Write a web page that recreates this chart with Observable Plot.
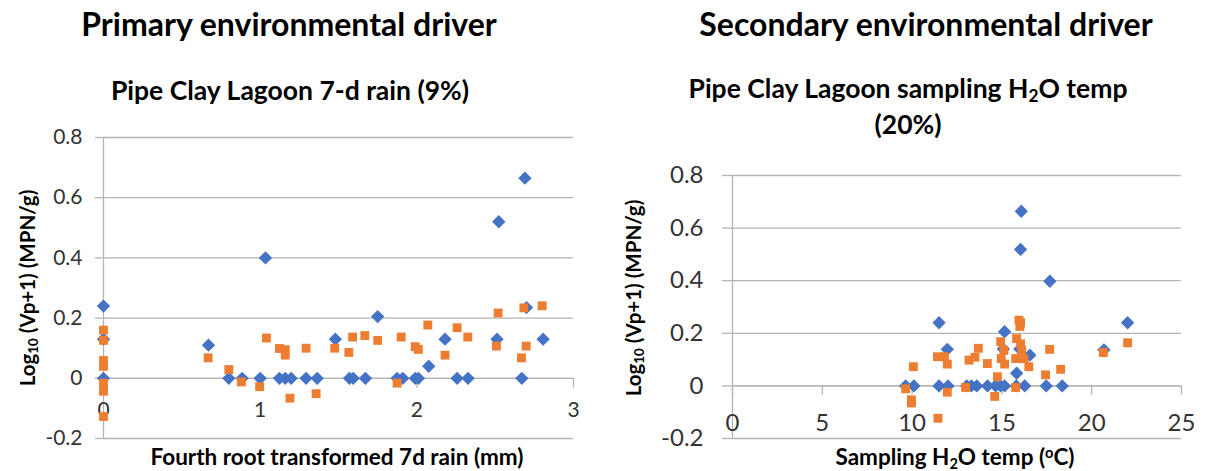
<!DOCTYPE html>
<html>
<head>
<meta charset="utf-8">
<script src="https://cdn.jsdelivr.net/npm/d3@7"></script>
<script src="https://cdn.jsdelivr.net/npm/@observablehq/plot@0.6"></script>
<style>
  html, body { margin: 0; padding: 0; background: #fff; }
  #root { position: relative; width: 1205px; height: 471px; font-family: Lato, "Open Sans", sans-serif; color: #000; overflow: hidden; }
  .t { position: absolute; white-space: pre; transform: translateX(-50%); line-height: 1; font-weight: bold; }
  .rot { position: absolute; white-space: pre; line-height: 1; font-weight: bold; transform: translate(-50%, -50%) rotate(-90deg); }
  .chart { position: absolute; top: 0; }
  sub { font-size: 0.65em; vertical-align: -0.25em; line-height: 0; }
  sup { font-size: 0.65em; vertical-align: 0.45em; line-height: 0; }
</style>
</head>
<body>
<div id="root"></div>
<script>
// ---- Data ----
// Left panel: Fourth root transformed 7d rain (mm) vs Log10(Vp+1)
const rainBlueX = [0, 0, 0, 0.67, 0.80, 0.885, 1.0, 1.034, 1.123, 1.16, 1.198, 1.293, 1.364, 1.48, 1.57, 1.594, 1.672, 1.75, 1.874, 1.91, 1.99, 2.01, 2.076, 2.18, 2.257, 2.327, 2.512, 2.523, 2.67, 2.69, 2.70, 2.806];
const rainBlueY = [0.24, 0.13, 0, 0.11, 0, 0, 0, 0.40, 0, 0, 0, 0, 0, 0.13, 0, 0, 0, 0.205, 0, 0, 0, 0, 0.04, 0.13, 0, 0, 0.13, 0.52, 0, 0.665, 0.235, 0.13];
const rainOrangeX = [0, 0, 0, 0, 0, 0, 0, 0.668, 0.80, 0.88, 0.997, 1.04, 1.123, 1.16, 1.16, 1.19, 1.293, 1.357, 1.476, 1.566, 1.59, 1.668, 1.75, 1.874, 1.90, 1.99, 2.01, 2.07, 2.18, 2.257, 2.325, 2.508, 2.519, 2.668, 2.683, 2.698, 2.80];
const rainOrangeY = [0.16, 0.126, 0.059, 0.04, -0.016, -0.043, -0.127, 0.068, 0.029, -0.012, -0.028, 0.134, 0.099, 0.095, 0.077, -0.066, 0.10, -0.051, 0.10, 0.086, 0.137, 0.142, 0.126, -0.016, 0.137, 0.105, 0.096, 0.177, 0.077, 0.168, 0.137, 0.107, 0.217, 0.068, 0.234, 0.107, 0.241];

// Right panel: Sampling H2O temp (oC) vs Log10(Vp+1)
const tempBlueX = [9.64, 10.1, 11.5, 11.5, 11.96, 12.0, 13.04, 13.3, 13.6, 14.2, 14.65, 14.93, 15.15, 15.08, 15.15, 15.82, 15.8, 16.04, 16.08, 16.0, 16.27, 16.56, 17.47, 17.67, 18.36, 20.68, 22.0];
const tempBlueY = [0, 0, 0.24, 0, 0.139, 0, 0, 0, 0, 0, 0, 0, 0.206, 0.14, 0, 0.048, 0, 0.519, 0.664, 0.14, 0, 0.117, 0, 0.398, 0, 0.137, 0.24];
const tempOrangeX = [9.64, 9.96, 9.96, 10.07, 11.44, 11.41, 11.8, 11.96, 11.96, 12.98, 13.17, 13.5, 13.69, 14.19, 14.6, 14.75, 14.93, 14.96, 15.11, 15.15, 15.77, 15.77, 15.82, 15.95, 16.0, 16.04, 16.04, 16.1, 16.23, 16.5, 17.43, 17.66, 18.27, 20.65, 22.0];
const tempOrangeY = [-0.011, -0.053, -0.065, 0.073, -0.123, 0.111, 0.111, 0.083, -0.024, -0.006, 0.098, 0.109, 0.143, 0.085, -0.04, 0.035, 0.168, 0.104, 0.135, 0.083, 0.104, -0.006, 0.18, 0.25, 0.226, 0.24, 0.16, 0.135, 0.103, 0.073, 0.042, 0.139, 0.063, 0.127, 0.164];

// Axis ticks
const yTicks = [-0.2, 0, 0.2, 0.4, 0.6, 0.8];
const rainXTicks = [0, 1, 2, 3];
const tempXTicks = [0, 5, 10, 15, 20, 25];

// ---- Build ----
const pts = (xs, ys) => xs.map((x, i) => ({x, y: ys[i]}));
const BLUE = "#4472C4", ORANGE = "#ED7D31", GRID = "#b4b4b4", TICKTXT = "#333333";
const fmt = d => String(d);

function panel({w, left, mL, mR, mT, mB, xDomain, xTicks, blue, orange, yTickSize, yPad, yFont, xTickSize, xPad, xFont}) {
  const innerH = 471 - mT - mB;
  const dyAxis = -(0 - yTicks[0]) / (yTicks[yTicks.length - 1] - yTicks[0]) * innerH;
  const svg = Plot.plot({
    width: w, height: 471,
    marginLeft: mL, marginRight: mR, marginTop: mT, marginBottom: mB,
    x: {domain: xDomain},
    y: {domain: [yTicks[0], yTicks[yTicks.length - 1]]},
    style: {fontFamily: "Lato, 'Open Sans', sans-serif", background: "transparent", overflow: "visible"},
    marks: [
      Plot.gridY(yTicks, {stroke: GRID, strokeOpacity: 1, strokeWidth: 1.3}),
      Plot.axisY(yTicks, {tickSize: yTickSize, tickPadding: yPad, stroke: GRID, strokeOpacity: 1, strokeWidth: 1.3,
        fill: TICKTXT, fontSize: yFont, tickFormat: fmt, label: null}),
      Plot.ruleX([0], {stroke: GRID, strokeWidth: 1.3}),
      Plot.ruleY([0], {stroke: GRID, strokeWidth: 1.3}),
      Plot.axisX(xTicks, {anchor: "bottom", dy: dyAxis, tickSize: xTickSize, tickPadding: xPad, stroke: GRID, strokeOpacity: 1,
        strokeWidth: 1.3, fill: TICKTXT, fontSize: xFont, tickFormat: fmt, label: null}),
      Plot.dot(blue, {x: "x", y: "y", symbol: "diamond2", r: 6.0, fill: BLUE, stroke: null}),
      Plot.dot(orange, {x: "x", y: "y", symbol: "square", r: 5.0, fill: ORANGE, stroke: null})
    ]
  });
  svg.classList.add("chart");
  svg.style.left = left + "px";
  return svg;
}

const root = document.getElementById("root");
root.appendChild(panel({w: 600, left: 0, mL: 103, mR: 27, mT: 137, mB: 33, xDomain: [0, 3], xTicks: rainXTicks,
  blue: pts(rainBlueX, rainBlueY), orange: pts(rainOrangeX, rainOrangeY),
  yTickSize: 8, yPad: 13, yFont: 21, xTickSize: 10, xPad: 14, xFont: 21}));
root.appendChild(panel({w: 605, left: 600, mL: 132, mR: 24, mT: 175, mB: 33, xDomain: [0, 25], xTicks: tempXTicks,
  blue: pts(tempBlueX, tempBlueY), orange: pts(tempOrangeX, tempOrangeY),
  yTickSize: 10, yPad: 19, yFont: 24, xTickSize: 9, xPad: 19, xFont: 24}));

// ---- Titles and axis labels (text) ----
function addText(html, cls, css) {
  const d = document.createElement("div");
  d.className = cls;
  d.innerHTML = html;
  Object.assign(d.style, css);
  root.appendChild(d);
}
addText("Primary environmental driver", "t", {left: "289px", top: "8px", fontSize: "32px"});
addText("Pipe Clay Lagoon 7-d rain (9%)", "t", {left: "290px", top: "77px", fontSize: "26.5px"});
addText("Secondary environmental driver", "t", {left: "926px", top: "8px", fontSize: "32px"});
addText("Pipe Clay Lagoon sampling H<sub>2</sub>O temp", "t", {left: "908px", top: "75px", fontSize: "26.5px"});
addText("(20%)", "t", {left: "908px", top: "111px", fontSize: "26.5px"});
addText("Fourth root transformed 7d rain (mm)", "t", {left: "337px", top: "446px", fontSize: "22.5px"});
addText("Sampling H<sub>2</sub>O temp (<sup>o</sup>C)", "t", {left: "955px", top: "446px", fontSize: "22.5px"});
addText("Log<sub>10</sub> (Vp+1) (MPN/g)", "rot", {left: "27px", top: "288px", fontSize: "20.5px"});
addText("Log<sub>10</sub> (Vp+1) (MPN/g)", "rot", {left: "633px", top: "298px", fontSize: "20.5px"});
</script>
</body>
</html>
